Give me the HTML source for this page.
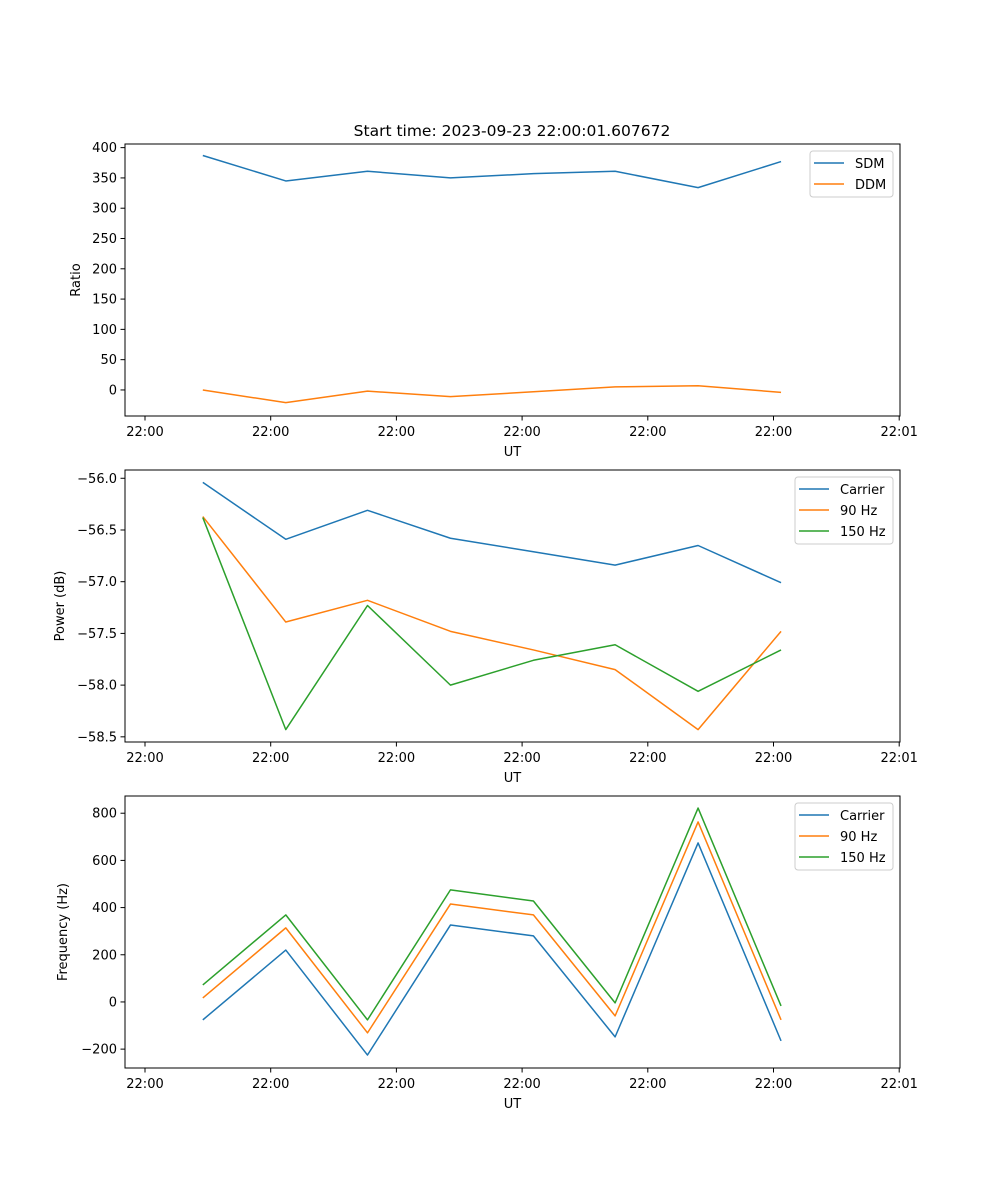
<!DOCTYPE html>
<html><head><meta charset="utf-8"><style>
html,body{margin:0;padding:0;background:#fff}
svg{display:block;font-family:"DejaVu Sans","Liberation Sans",sans-serif}
</style></head><body>
<svg id="fig" width="1000" height="1200" xmlns="http://www.w3.org/2000/svg"></svg>
<script>
// shared x data (seconds after 22:00:00)
const times = [4.6, 11.2, 17.7, 24.3, 30.9, 37.4, 44.0, 50.6];
const xTicks = [0, 10, 20, 30, 40, 50, 60];
const xTickLabels = ["22:00","22:00","22:00","22:00","22:00","22:00","22:01"];
// panel 1
const sdm = [387, 345, 361, 350, 357, 361, 334, 377];
const ddm = [0, -21, -2, -11, -3, 5, 7, -4];
const ticks1 = [0, 50, 100, 150, 200, 250, 300, 350, 400];
// panel 2
const pCarrier = [-56.04, -56.59, -56.31, -56.58, -56.71, -56.84, -56.65, -57.01];
const p90 = [-56.37, -57.39, -57.18, -57.48, -57.66, -57.85, -58.43, -57.48];
const p150 = [-56.38, -58.43, -57.23, -58.00, -57.76, -57.61, -58.06, -57.66];
const ticks2 = [-58.5, -58.0, -57.5, -57.0, -56.5, -56.0];
// panel 3
const fCarrier = [-76, 220, -225, 326, 280, -148, 674, -165];
const f90 = [17, 314, -131, 415, 369, -59, 763, -76];
const f150 = [72, 369, -76, 475, 428, -4, 822, -17];
const ticks3 = [-200, 0, 200, 400, 600, 800];

const NS = "http://www.w3.org/2000/svg";
const svg = document.getElementById("fig");
function mk(tag, attrs, parent) {
  const e = document.createElementNS(NS, tag);
  for (const k in attrs) e.setAttribute(k, attrs[k]);
  (parent || svg).appendChild(e);
  return e;
}
const L = 125, R = 900;
const xScale = t => 145 + (t / 10) * 125.7;
const C = ["#1f77b4", "#ff7f0e", "#2ca02c"];

function panel(name, top, bottom, ymin, ymax, yticks, fmt, series, names, ylabel, legendX, legendW) {
  const g = mk("g", {});
  
  
  const ys = v => bottom - (v - ymin) / (ymax - ymin) * (bottom - top);
  series.forEach((s, i) => {
    const p = mk("polyline", {points: s.map((v, j) => xScale(times[j]) + "," + ys(v)).join(" "),
      fill: "none", stroke: C[i], "stroke-width": 1.5, "stroke-linejoin": "round"}, g);
    
    
  });
  const frame = mk("rect", {x: L, y: top, width: R - L, height: bottom - top, fill: "none", stroke: "#000", "stroke-width": 1}, g);
  
  
  xTicks.forEach((t, i) => {
    const x = xScale(t);
    mk("line", {x1: x, x2: x, y1: bottom, y2: bottom + 4.5, stroke: "#000"}, g);
    const tx = mk("text", {x: x, y: bottom + 20, "text-anchor": "middle", "font-size": 13}, g);
    tx.textContent = xTickLabels[i];
    
    
  });
  yticks.forEach(v => {
    const y = ys(v);
    mk("line", {x1: L - 4.5, x2: L, y1: y, y2: y, stroke: "#000"}, g);
    const tx = mk("text", {x: L - 8, y: y + 4.5, "text-anchor": "end", "font-size": 13}, g);
    tx.textContent = fmt(v).replace("-", "\u2212");
    
    
  });
  const xl = mk("text", {x: (L + R) / 2, y: bottom + 40, "text-anchor": "middle", "font-size": 13}, g);
  xl.textContent = "UT";
  
  
  const lx = ylabel === "Ratio" ? 80 : (ylabel === "Power (dB)" ? 64 : 67);
  const yl = mk("text", {x: lx, y: (top + bottom) / 2, "text-anchor": "middle", "font-size": 13,
    transform: `rotate(-90 ${lx} ${(top + bottom) / 2})`}, g);
  yl.textContent = ylabel;
  
  
  // legend
  const lg = mk("g", {}, g);
  
  
  mk("rect", {x: legendX, y: top + 7, width: legendW, height: 21 * names.length + 4, rx: 3,
    fill: "#fff", "fill-opacity": 0.8, stroke: "#ccc"}, lg);
  names.forEach((n, i) => {
    const y = top + 19 + 21 * i;
    mk("line", {x1: legendX + 4, x2: legendX + 34, y1: y, y2: y, stroke: C[i], "stroke-width": 1.5}, lg);
    const t = mk("text", {x: legendX + 45, y: y + 5, "font-size": 13}, lg);
    t.textContent = n;
    
    
  });
}

const title = mk("text", {x: 512, y: 136, "text-anchor": "middle", "font-size": 15.5});
title.textContent = "Start time: 2023-09-23 22:00:01.607672";



panel("ratio-panel", 144, 416, -43, 406, ticks1, v => String(v), [sdm, ddm], ["SDM", "DDM"], "Ratio", 810, 83);
panel("power-panel", 470, 742, -58.55, -55.92, ticks2, v => v.toFixed(1), [pCarrier, p90, p150], ["Carrier", "90 Hz", "150 Hz"], "Power (dB)", 795, 98);
panel("frequency-panel", 796, 1068, -280, 873, ticks3, v => String(v), [fCarrier, f90, f150], ["Carrier", "90 Hz", "150 Hz"], "Frequency (Hz)", 795, 98);
</script>
</body></html>
